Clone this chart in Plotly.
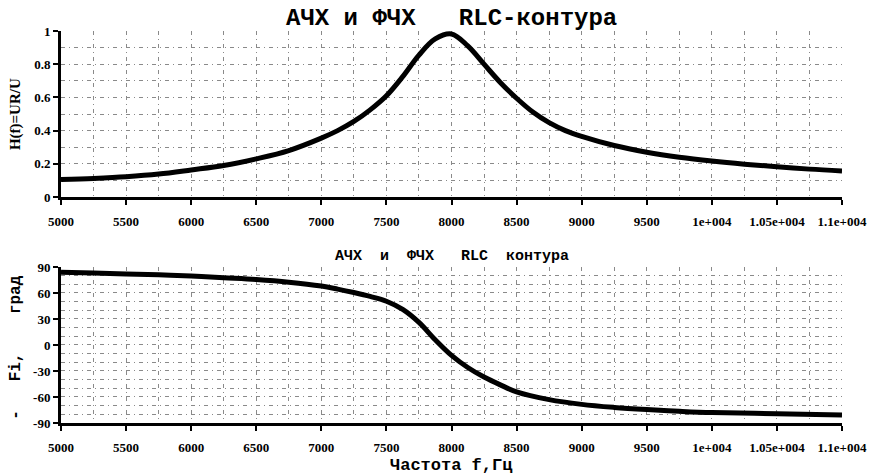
import plotly.graph_objects as go

# Amplitude response H(f)=UR/U
freq_amp = [5000, 5250, 5500, 5750, 6000, 6250, 6500, 6750, 7000, 7125, 7250, 7375, 7500,
            7625, 7750, 7875, 8000, 8125, 8250, 8375, 8500, 8625, 8750, 8875, 9000, 9250,
            9500, 9750, 10000, 10250, 10500, 10750, 11000]
amp = [0.105, 0.112, 0.122, 0.138, 0.163, 0.19, 0.23, 0.28, 0.355, 0.40, 0.455, 0.525, 0.61,
       0.725, 0.855, 0.952, 0.982, 0.91, 0.80, 0.69, 0.595, 0.512, 0.448, 0.40, 0.365, 0.31,
       0.27, 0.24, 0.217, 0.198, 0.182, 0.168, 0.157]
# Phase response (deg)
freq_ph = [5000, 5250, 5500, 5750, 6000, 6250, 6500, 6750, 7000, 7125, 7250, 7375, 7500,
           7625, 7750, 7875, 8000, 8125, 8250, 8375, 8500, 8750, 9000, 9250, 9500, 9750,
           10000, 10500, 11000]
phase = [84, 83, 82, 81, 79.5, 77.5, 75.5, 72.5, 68, 64.5, 60.5, 56, 50.5,
         41, 26, 6, -12, -26, -37, -46, -54, -63, -68.5, -72, -74.5, -76.5,
         -78, -79.3, -80.7]

x_tickvals = [5000, 5500, 6000, 6500, 7000, 7500, 8000, 8500, 9000, 9500, 10000, 10500, 11000]
x_ticktext = ['5000', '5500', '6000', '6500', '7000', '7500', '8000', '8500', '9000', '9500',
              '1e+004', '1.05e+004', '1.1e+004']
amp_tickvals = [0, 0.2, 0.4, 0.6, 0.8, 1]
amp_ticktext = ['0', '0.2', '0.4', '0.6', '0.8', '1']
ph_tickvals = [-90, -60, -30, 0, 30, 60, 90]
ph_ticktext = ['-90', '-60', '-30', '0', '30', '60', '90']

title_top = 'АЧХ и ФЧХ   RLC-контура'
title_bottom = 'АЧХ  и  ФЧХ   RLC  контура'
ylabel_top = 'H(f)=UR/U'
ylabel_bottom = '-   Fi,    град'
xlabel = 'Частота f,Гц'

SERIF = 'Liberation Serif'
MONO = 'Liberation Mono'
tickfont = dict(family=SERIF, size=13, color='black', weight='bold')
GRIDC = '#8a8a8a'
GDASH = '4px,4px,1px,4px'

def nb(s):
    return s.replace(' ', '\u00a0')

fig = go.Figure()
fig.add_trace(go.Scatter(x=freq_amp, y=amp, mode='lines',
                         line=dict(color='black', width=5, shape='spline', smoothing=1.0),
                         xaxis='x', yaxis='y', showlegend=False, hoverinfo='skip'))
fig.add_trace(go.Scatter(x=freq_ph, y=phase, mode='lines',
                         line=dict(color='black', width=5, shape='spline', smoothing=1.0),
                         xaxis='x2', yaxis='y2', showlegend=False, hoverinfo='skip'))

def xax(anchor):
    return dict(range=[5000, 11000], domain=[0, 1], anchor=anchor, automargin=False,
                tickvals=x_tickvals, ticktext=x_ticktext, tickfont=tickfont,
                ticks='outside', ticklen=5, tickwidth=2, tickcolor='black',
                showline=True, linecolor='black', linewidth=3, zeroline=False,
                ticklabelstandoff=5,
                showgrid=True, gridcolor=GRIDC, gridwidth=1, griddash=GDASH,
                minor=dict(dtick=250, tick0=5000, showgrid=True, gridcolor=GRIDC,
                           griddash=GDASH, gridwidth=1, ticks=''))

def yax(anchor, domain, rng, tv, tt, mdt):
    return dict(range=rng, domain=domain, anchor=anchor, automargin=False,
                tickvals=tv, ticktext=tt, tickfont=tickfont,
                ticks='outside', ticklen=5, tickwidth=2, tickcolor='black',
                showline=True, linecolor='black', linewidth=3, zeroline=False,
                showgrid=True, gridcolor=GRIDC, gridwidth=1, griddash=GDASH,
                minor=dict(dtick=mdt, tick0=0, showgrid=True, gridcolor=GRIDC,
                           griddash=GDASH, gridwidth=1, ticks=''))

fig.update_layout(
    width=870, height=474,
    margin=dict(l=61, r=28, t=31, b=51, autoexpand=False),
    paper_bgcolor='white', plot_bgcolor='white',
    xaxis=xax('y'),
    yaxis=yax('x', [0.5765, 1.0], [0, 1], amp_tickvals, amp_ticktext, 0.1),
    xaxis2=xax('y2'),
    yaxis2=yax('x2', [0, 0.398], [-90, 90], ph_tickvals, ph_ticktext, 10),
    annotations=[
        dict(text=nb(title_top), xref='paper', yref='paper', x=0.5, y=1.0,
             yshift=-3, xanchor='center', yanchor='bottom', showarrow=False,
             font=dict(family=MONO, size=24, color='black', weight='bold')),
        dict(text=nb(title_bottom), xref='paper', yref='paper', x=0.5, y=0.398,
             yshift=0, xanchor='center', yanchor='bottom', showarrow=False,
             font=dict(family=MONO, size=15, color='black', weight='bold')),
        dict(text=ylabel_top, xref='paper', yref='paper', x=0, xshift=-46, y=0.788,
             xanchor='center', yanchor='middle', textangle=-90, showarrow=False,
             font=dict(family=SERIF, size=15, color='black', weight='bold')),
        dict(text=nb(ylabel_bottom), xref='paper', yref='paper', x=0, xshift=-45, y=0.192,
             xanchor='center', yanchor='middle', textangle=-90, showarrow=False,
             font=dict(family=MONO, size=16, color='black', weight='bold')),
        dict(text=xlabel, xref='paper', yref='paper', x=0.5, y=0, yshift=-42,
             xanchor='center', yanchor='middle', showarrow=False,
             font=dict(family=MONO, size=17, color='black', weight='bold')),
    ],
)

# remove the browser's default 8px body margin so the figure fills the window exactly
fig.write_html('out.html', config={'displayModeBar': False},
               post_script="document.body.style.margin='0';")
